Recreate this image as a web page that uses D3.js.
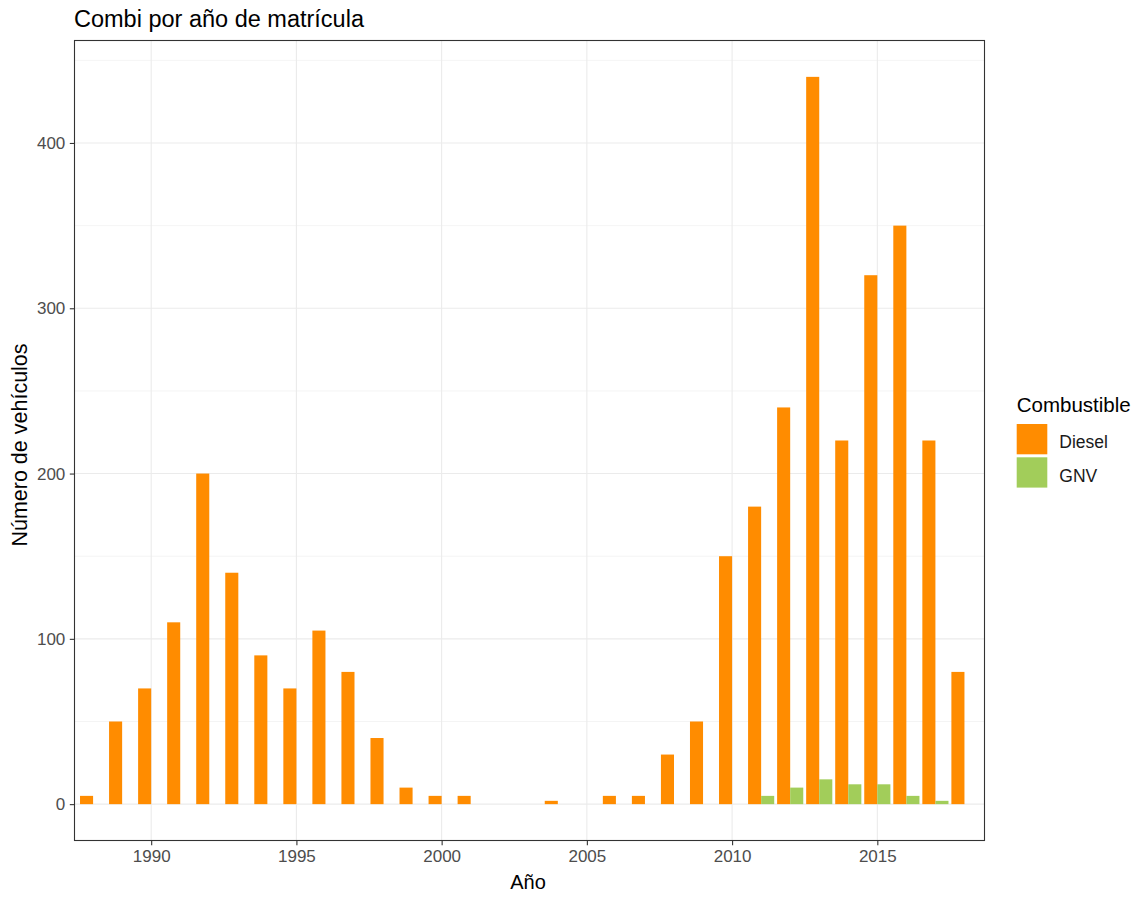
<!DOCTYPE html>
<html>
<head>
<meta charset="utf-8">
<script src="https://cdn.jsdelivr.net/npm/d3@7"></script>
<style>
  html, body { margin: 0; padding: 0; background: #fff; }
  text { font-family: "Liberation Sans", Arial, sans-serif; }
</style>
</head>
<body>
<svg id="chart" width="1141" height="897"></svg>
<script>
// Vehicle counts by registration year and fuel type
const years       = [1988, 1989, 1990, 1991, 1992, 1993, 1994, 1995, 1996, 1997, 1998, 1999, 2000, 2001, 2004, 2006, 2007, 2008, 2009, 2010, 2011, 2012, 2013, 2014, 2015, 2016, 2017, 2018];
const dieselCount = [5, 50, 70, 110, 200, 140, 90, 70, 105, 80, 40, 10, 5, 5, 2, 5, 5, 30, 50, 150, 180, 240, 440, 220, 320, 350, 220, 80];
const gnvYears    = [2011, 2012, 2013, 2014, 2015, 2016, 2017];
const gnvCount    = [5, 10, 15, 12, 12, 5, 2];

const fuels      = ["Diesel", "GNV"];
const fuelColors = ["#FF8C00", "#A2CD5A"];
const xTicks     = [1990, 1995, 2000, 2005, 2010, 2015];
const yTicks     = [0, 100, 200, 300, 400];
const yMinor     = [50, 150, 250, 350, 450];

const svg = d3.select("#chart");
const panel = { left: 74.5, right: 984.5, top: 40.5, bottom: 840.5 };

const x = d3.scaleLinear().domain([1987.36, 2018.69]).range([panel.left, panel.right]);
const y = d3.scaleLinear().domain([-22, 462]).range([panel.bottom, panel.top]);
const color = d3.scaleOrdinal().domain(fuels).range(fuelColors);

// Dodged bars: each fuel takes half of a 0.9-wide slot
const slot = 0.9, half = slot / 2;
const bars = [
  ...years.map((yr, i) => ({ year: yr, value: dieselCount[i], fuel: "Diesel", offset: -half })),
  ...gnvYears.map((yr, i) => ({ year: yr, value: gnvCount[i], fuel: "GNV", offset: 0 }))
];

// Panel background and grid
svg.append("rect")
  .attr("x", panel.left).attr("y", panel.top)
  .attr("width", panel.right - panel.left).attr("height", panel.bottom - panel.top)
  .attr("fill", "#fff");

const grid = svg.append("g");
grid.selectAll("line.minor").data(yMinor).join("line")
  .attr("x1", panel.left).attr("x2", panel.right)
  .attr("y1", d => y(d)).attr("y2", d => y(d))
  .attr("stroke", "#EBEBEB").attr("stroke-width", 0.55);
grid.selectAll("line.majorY").data(yTicks).join("line")
  .attr("x1", panel.left).attr("x2", panel.right)
  .attr("y1", d => y(d)).attr("y2", d => y(d))
  .attr("stroke", "#EBEBEB").attr("stroke-width", 1.1);
grid.selectAll("line.majorX").data(xTicks).join("line")
  .attr("y1", panel.top).attr("y2", panel.bottom)
  .attr("x1", d => x(d)).attr("x2", d => x(d))
  .attr("stroke", "#EBEBEB").attr("stroke-width", 1.1);

// Bars
svg.append("g").selectAll("rect").data(bars).join("rect")
  .attr("x", d => x(d.year + d.offset))
  .attr("width", d => x(d.year + d.offset + half) - x(d.year + d.offset))
  .attr("y", d => y(d.value))
  .attr("height", d => y(0) - y(d.value))
  .attr("fill", d => color(d.fuel));

// Panel border
svg.append("rect")
  .attr("x", panel.left).attr("y", panel.top)
  .attr("width", panel.right - panel.left).attr("height", panel.bottom - panel.top)
  .attr("fill", "none").attr("stroke", "#333333").attr("stroke-width", 1.1);

// Axes
const xAxis = svg.append("g")
  .attr("transform", `translate(0,${panel.bottom})`)
  .call(d3.axisBottom(x).tickValues(xTicks).tickFormat(d3.format("d")).tickSizeOuter(0).tickSize(4.7).tickPadding(4.5));
xAxis.select(".domain").remove();
xAxis.selectAll("line").attr("stroke", "#333333").attr("stroke-width", 1.1);
xAxis.selectAll("text").attr("fill", "#4D4D4D").style("font-size", "17px")
  .style("font-family", "'Liberation Sans', Arial, sans-serif");

const yAxis = svg.append("g")
  .attr("transform", `translate(${panel.left},0)`)
  .call(d3.axisLeft(y).tickValues(yTicks).tickFormat(d3.format("d")).tickSizeOuter(0).tickSize(4.7).tickPadding(4.5));
yAxis.select(".domain").remove();
yAxis.selectAll("line").attr("stroke", "#333333").attr("stroke-width", 1.1);
yAxis.selectAll("text").attr("fill", "#4D4D4D").style("font-size", "17px")
  .style("font-family", "'Liberation Sans', Arial, sans-serif");

// Titles
svg.append("text")
  .attr("x", 74).attr("y", 26.5)
  .attr("fill", "#000").style("font-size", "23.5px")
  .text("Combi por año de matrícula");

svg.append("text")
  .attr("x", 528).attr("y", 888.5)
  .attr("text-anchor", "middle").attr("fill", "#000").style("font-size", "20px")
  .text("Año");

svg.append("text")
  .attr("transform", `translate(27,445) rotate(-90)`)
  .attr("text-anchor", "middle").attr("fill", "#000").style("font-size", "21.5px")
  .text("Número de vehículos");

// Legend
const legend = svg.append("g").attr("transform", "translate(1016.7,0)");
legend.append("text")
  .attr("x", 0).attr("y", 411.5)
  .attr("fill", "#000").style("font-size", "20.5px")
  .text("Combustible");
const keys = legend.selectAll("g.key").data(fuels).join("g")
  .attr("transform", (d, i) => `translate(0,${424 + i * 33.3})`);
keys.append("rect")
  .attr("width", 30.6).attr("height", 30.3)
  .attr("fill", d => color(d));
keys.append("text")
  .attr("x", 42.6).attr("y", 24.3)
  .attr("fill", "#1A1A1A").style("font-size", "17.5px")
  .text(d => d);
</script>
</body>
</html>
